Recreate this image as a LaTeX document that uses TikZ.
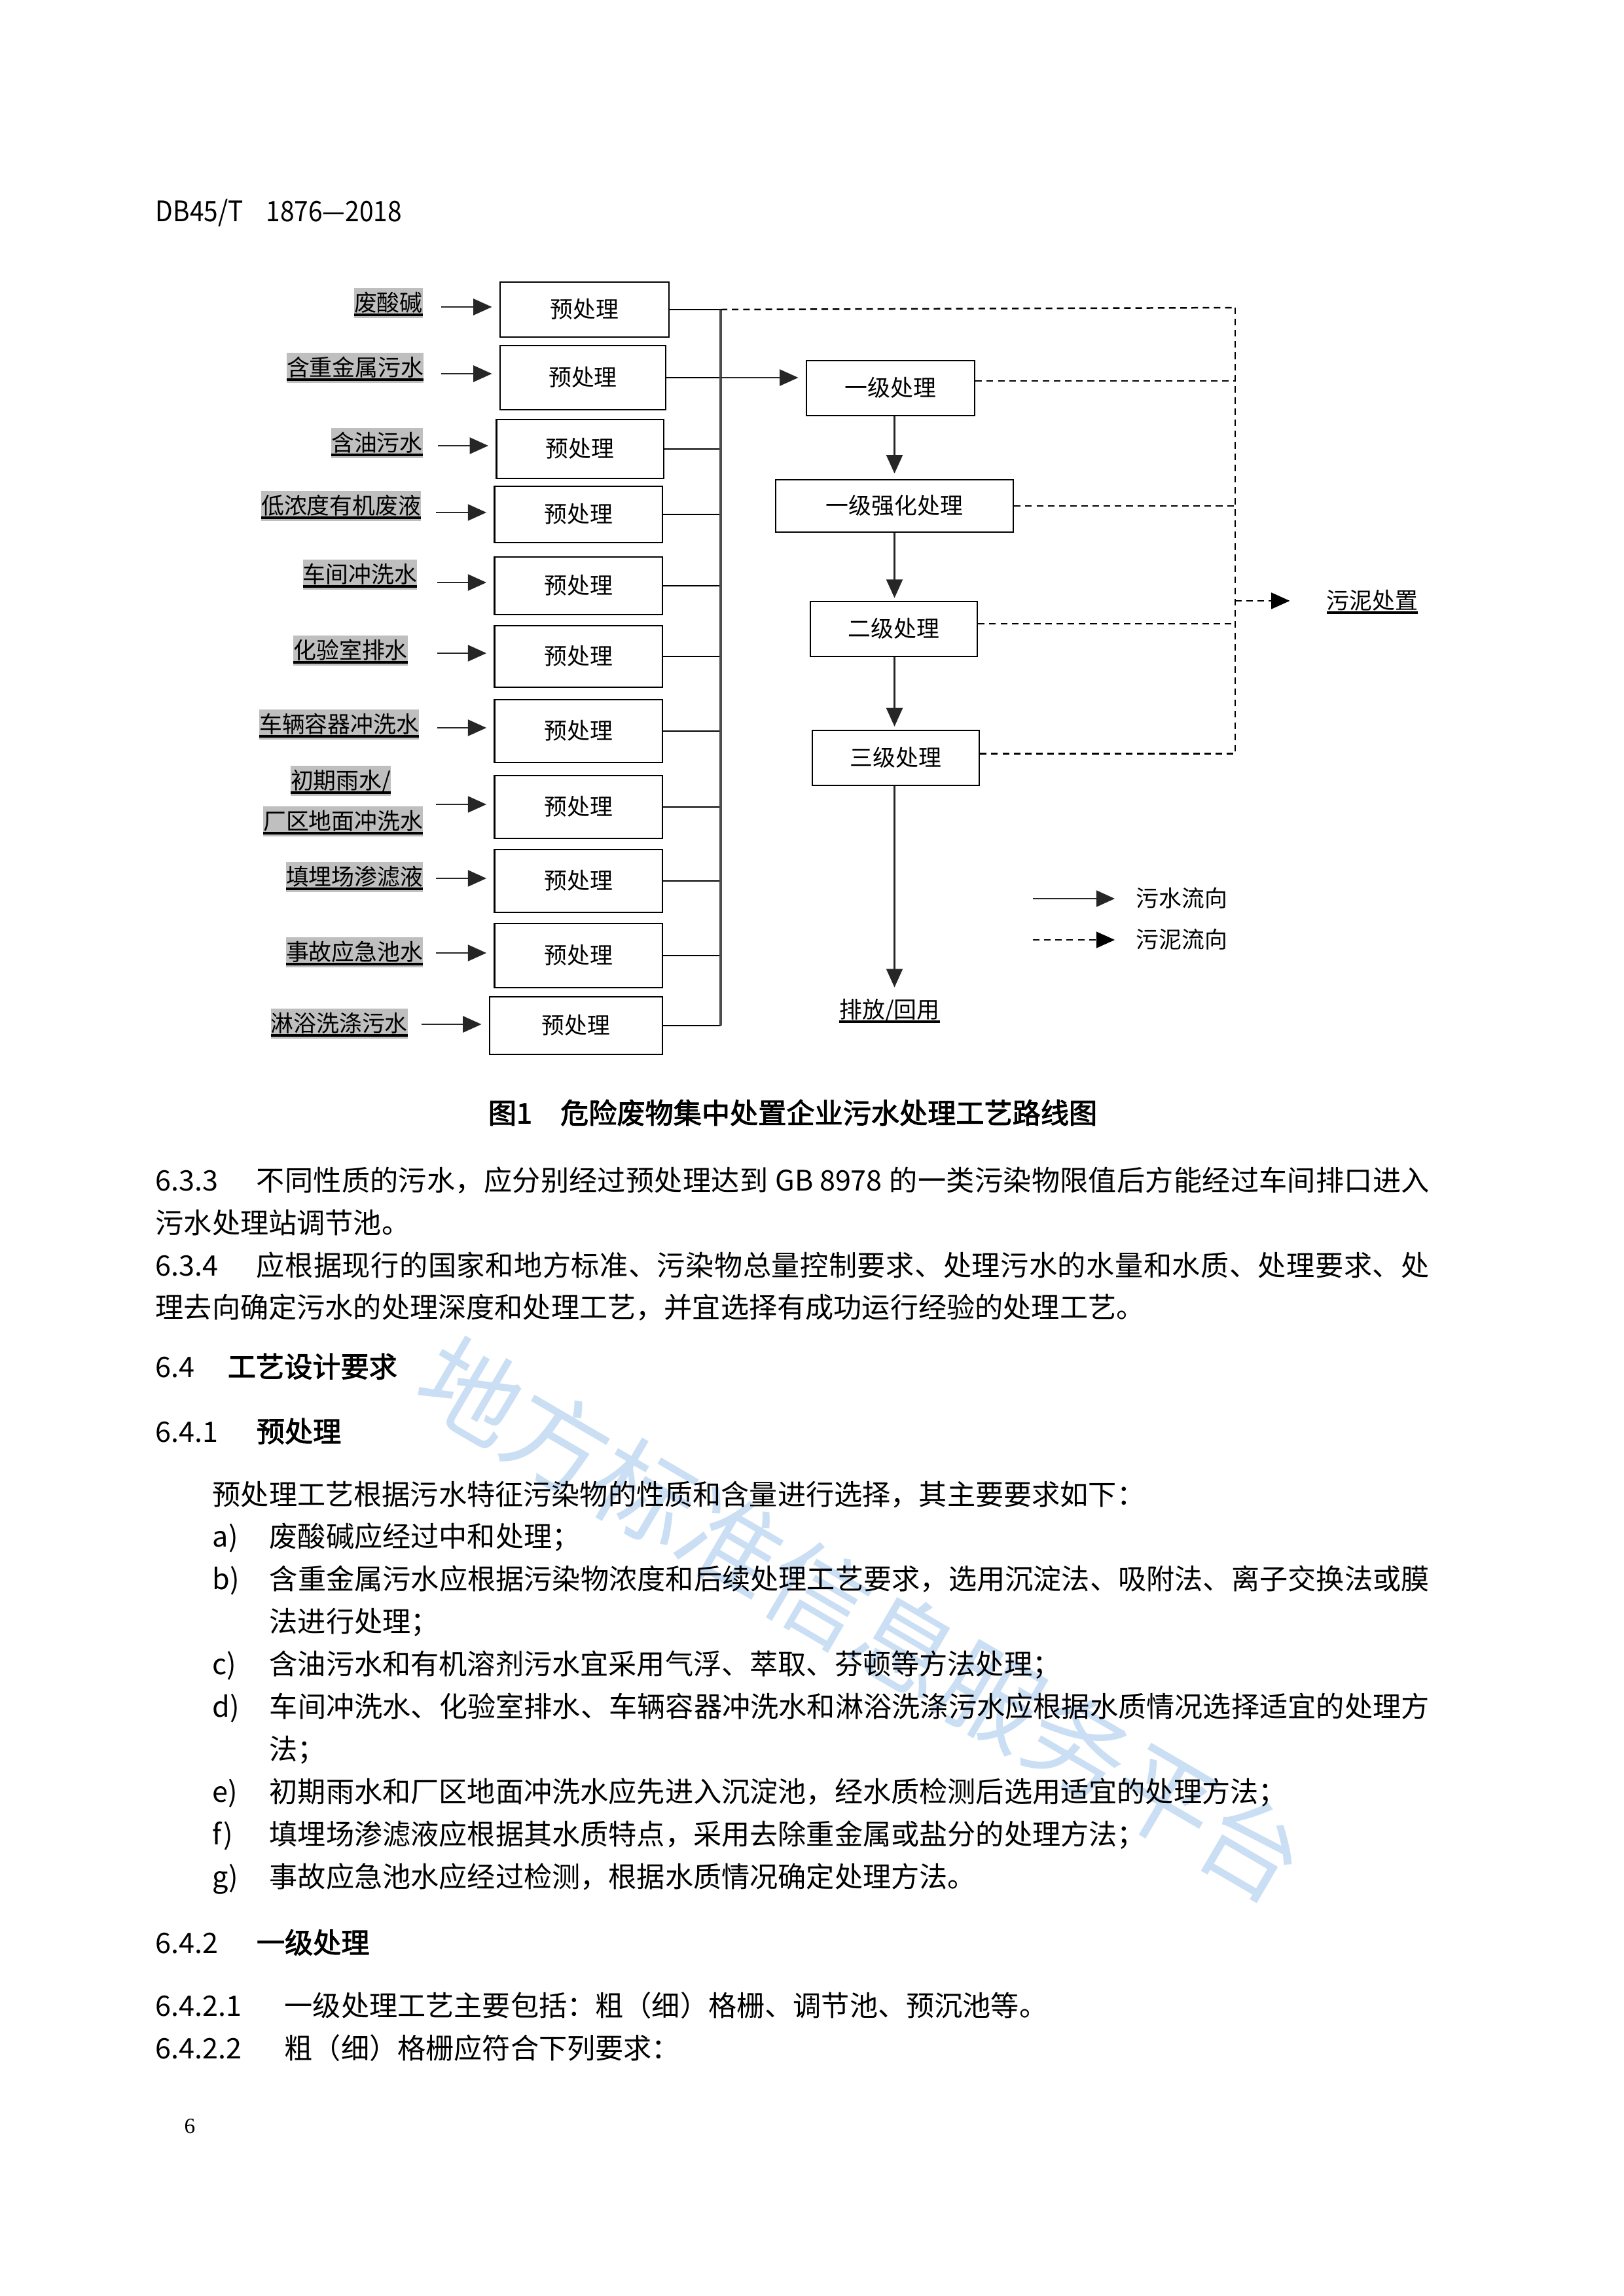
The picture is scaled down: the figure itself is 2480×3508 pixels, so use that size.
\documentclass[tikz,border=0pt]{standalone}
\usepackage{fontspec}
\usepackage{graphicx}
\setmainfont{Noto Sans CJK SC}
\newfontfamily\heiti[FakeBold=2.2]{Noto Sans CJK SC}
\newfontfamily\pnumfont{Liberation Serif}
\usetikzlibrary{arrows.meta}
\XeTeXlinebreaklocale "zh"
\XeTeXlinebreakskip=0pt plus 1pt
\definecolor{wmblue}{RGB}{150,190,235}
\newcommand\dfs{\fontsize{8.4}{10}\selectfont}
\newcommand\bfs{\fontsize{10.4}{13}\selectfont}
\newcommand\ulab[1]{\setbox0\hbox{#1}\rlap{\rule[-1.7pt]{\wd0}{1pt}}\box0}
\def\spr#1{\mbox{#1}\sprx}
\def\sprx#1{\ifx\relax#1\else\hskip0pt plus 1fil\mbox{#1}\expandafter\sprx\fi}
\def\pxu{0.08468mm}
\newcommand\bx[6]{\node[box, minimum width={(#4-#2)*\pxu}, minimum height={(#5-#3)*\pxu}] (#1) at ({(#2+#4)/2},{(#3+#5)/2}) {#6};}
\newcommand\bl[4]{\node[bodyt] (#1) at (#2,{#3+16}) {#4};}
\begin{document}
\begin{tikzpicture}[x=0.08468mm,y=-0.08468mm,
 box/.style={draw, line width=0.6pt, inner sep=0pt, font=\dfs, text height=7.2pt, text depth=1pt},
 lab/.style={fill=black!25, inner xsep=0pt, inner ysep=1.5pt, font=\dfs, text height=7.2pt, text depth=1pt, anchor=east},
 plain/.style={inner sep=0pt, font=\dfs, text height=7.2pt, text depth=1pt},
 arr/.style={-{Triangle[length=2.4mm,width=2.1mm]}, line width=0.7pt, draw=black!85},
 conn/.style={line width=0.6pt},
 bus/.style={line width=0.8pt, draw=black!70},
 sl/.style={dash pattern=on 0.85mm off 0.6mm, line width=0.6pt},
 sla/.style={sl, -{Triangle[length=2.4mm,width=2.1mm]}},
 bodyt/.style={inner sep=0pt, anchor=base west, font=\bfs},
 headt/.style={bodyt, font=\bfs\heiti},
]
\useasboundingbox (0,0) rectangle (2480,3508);
\fill[white] (0,0) rectangle (2480,3508);

% watermark
\node[rotate=-30.3, text=wmblue, opacity=0.5, font=\fontsize{37}{40}\selectfont, inner sep=0pt] (wm) at (1317,2474) {地方标准信息服务平台};

% header
\node[bodyt] (hdr) at (237,338) {\scalebox{0.9}[1]{DB45/T\hspace{0.9em}1876—2018}};

% pretreatment boxes
\bx{p1}{764}{431}{1022}{515}{预处理}
\bx{p2}{764}{528}{1017}{626}{预处理}
\bx{p3}{758.5}{641}{1014}{731}{预处理}
\bx{p4}{755.6}{743}{1012}{829}{预处理}
\bx{p5}{755.6}{851}{1012}{939}{预处理}
\bx{p6}{755.6}{956}{1012}{1050}{预处理}
\bx{p7}{755.6}{1069}{1012}{1165}{预处理}
\bx{p8}{755.6}{1185}{1012}{1281}{预处理}
\bx{p9}{755.6}{1298}{1012}{1394}{预处理}
\bx{p10}{755.6}{1411}{1012}{1509}{预处理}
\bx{p11}{748}{1523}{1012}{1611}{预处理}

% source labels
\node[lab] (l1) at (646.5,463) {\ulab{废酸碱}};
\node[lab] (l2) at (648,562) {\ulab{含重金属污水}};
\node[lab] (l3) at (646.5,677) {\ulab{含油污水}};
\node[lab] (l4) at (644,773) {\ulab{低浓度有机废液}};
\node[lab] (l5) at (638,878) {\ulab{车间冲洗水}};
\node[lab] (l6) at (623.6,994) {\ulab{化验室排水}};
\node[lab] (l7) at (641,1107) {\ulab{车辆容器冲洗水}};
\node[lab] (l8a) at (598,1193) {\ulab{初期雨水/}};
\node[lab] (l8b) at (647,1255) {\ulab{厂区地面冲洗水}};
\node[lab] (l9) at (647,1340) {\ulab{填埋场渗滤液}};
\node[lab] (l10) at (647,1455) {\ulab{事故应急池水}};
\node[lab] (l11) at (623.6,1564) {\ulab{淋浴洗涤污水}};

% arrow starts
\coordinate (a1) at (673.5,469);
\coordinate (a2) at (673.5,571);
\coordinate (a3) at (669,681);
\coordinate (a4) at (666,783);
\coordinate (a5) at (668,890);
\coordinate (a6) at (668,998);
\coordinate (a7) at (668,1112);
\coordinate (a8) at (666,1229);
\coordinate (a9) at (666,1342);
\coordinate (a10) at (666,1456);
\coordinate (a11) at (643.6,1565);
\foreach \i in {1,...,11}{
  \draw[arr, shorten >=0.95mm] (a\i) -- (a\i -| p\i.west);
}

% bus
\coordinate (bt) at (1101,470);
\foreach \i in {1,...,11}{
  \draw[conn] (p\i.east) -- (p\i.east -| bt);
}
\draw[bus] (p1.east -| bt) -- (p11.east -| bt);

% main treatment column
\bx{L1}{1232}{551}{1489}{635}{一级处理}
\bx{L2}{1185}{733}{1548}{813}{一级强化处理}
\bx{L3}{1238}{919}{1493}{1003}{二级处理}
\bx{L4}{1241}{1116}{1496}{1200}{三级处理}
\node[plain] (out) at (1359,1543) {\ulab{排放/回用}};

\draw[arr, shorten >=0.95mm] (p2.east -| bt) -- (p2.east -| L1.west);
\draw[arr, shorten >=0.7mm] (L2.north |- L1.south) -- (L2.north);
\draw[arr, shorten >=0.35mm] (L2.south) -- (L2.south |- L3.north);
\draw[arr, shorten >=0.4mm] (L2.north |- L3.south) -- (L2.north |- L4.north);
\draw[arr, shorten >=1.4mm] (L2.north |- L4.south) -- (L2.north |- out.north);

% sludge lines
\coordinate (dr) at (1887,470);
\node[plain, anchor=west] (sludge) at (2026,918) {\ulab{污泥处置}};
\draw[sl] (p1.east -| bt) -- (dr);
\draw[sl] (dr) -- ([yshift=0.55mm]dr |- L4.east);
\draw[sl] ([yshift=0.93mm]L1.east) -- ([yshift=0.93mm]L1.east -| dr);
\draw[sl] (L2.east) -- (L2.east -| dr);
\draw[sl] ([yshift=0.68mm]L3.east) -- ([yshift=0.68mm]L3.east -| dr);
\draw[sl] ([yshift=0.55mm]L4.east) -- ([yshift=0.55mm]L4.east -| dr);
\draw[sla, shorten >=4.7mm] (sludge.west -| dr) -- (sludge.west);

% legend
\node[plain, anchor=west] (lg1) at (1735,1373) {污水流向};
\node[plain, anchor=west] (lg2) at (1735,1436) {污泥流向};
\coordinate (lg1s) at (1578,1373);
\coordinate (lg2s) at (1578,1436);
\draw[arr, shorten >=2.7mm] (lg1s) -- (lg1.west);
\draw[sla, shorten >=2.7mm] (lg2s) -- (lg2.west);

% caption
\node[inner sep=0pt, font=\bfs\heiti] (cap) at (1211,1700) {图1\hspace{1em}危险废物集中处置企业污水处理工艺路线图};

% body text
\bl{n633}{237}{1803}{6.3.3}
\bl{t633}{391}{1803}{\makebox[151.75mm][s]{\spr 不同性质的污水，应分别经过预处理达到{\hspace{0.25em}GB 8978\hspace{0.25em}}的一类污染物限值后方能经过车间排口进入\relax}}
\bl{t633b}{237}{1868}{污水处理站调节池。}
\bl{n634}{237}{1933}{6.3.4}
\bl{t634}{391}{1933}{\makebox[151.75mm][s]{\spr 应根据现行的国家和地方标准、污染物总量控制要求、处理污水的水量和水质、处理要求、处\relax}}
\bl{t634b}{237}{1997}{理去向确定污水的处理深度和处理工艺，并宜选择有成功运行经验的处理工艺。}
\bl{n64}{237}{2088}{6.4}
\node[headt] (t64) at (347,2104) {工艺设计要求};
\bl{n641}{237}{2187}{6.4.1}
\node[headt] (t641) at (391,2203) {预处理};
\bl{tpre}{324}{2283}{预处理工艺根据污水特征污染物的性质和含量进行选择，其主要要求如下：}
\bl{la}{324}{2347}{a)}
\bl{ta}{411}{2347}{废酸碱应经过中和处理；}
\bl{lb}{324}{2412}{b)}
\bl{tb}{411}{2412}{\makebox[150.05mm][s]{\spr 含重金属污水应根据污染物浓度和后续处理工艺要求，选用沉淀法、吸附法、离子交换法或膜\relax}}
\bl{tb2}{411}{2477}{法进行处理；}
\bl{lc}{324}{2542}{c)}
\bl{tc}{411}{2542}{含油污水和有机溶剂污水宜采用气浮、萃取、芬顿等方法处理；}
\bl{ld}{324}{2607}{d)}
\bl{td}{411}{2607}{\makebox[150.05mm][s]{\spr 车间冲洗水、化验室排水、车辆容器冲洗水和淋浴洗涤污水应根据水质情况选择适宜的处理方\relax}}
\bl{td2}{411}{2672}{法；}
\bl{le}{324}{2737}{e)}
\bl{te}{411}{2737}{初期雨水和厂区地面冲洗水应先进入沉淀池，经水质检测后选用适宜的处理方法；}
\bl{lf}{324}{2802}{f)}
\bl{tf}{411}{2802}{填埋场渗滤液应根据其水质特点，采用去除重金属或盐分的处理方法；}
\bl{lg}{324}{2867}{g)}
\bl{tg}{411}{2867}{事故应急池水应经过检测，根据水质情况确定处理方法。}
\bl{n642}{237}{2968}{6.4.2}
\node[headt] (t642) at (391,2984) {一级处理};
\bl{n6421}{237}{3064}{6.4.2.1}
\bl{t6421}{434}{3064}{一级处理工艺主要包括：粗（细）格栅、调节池、预沉池等。}
\bl{n6422}{237}{3129}{6.4.2.2}
\bl{t6422}{434}{3129}{粗（细）格栅应符合下列要求：}

% page number
\node[inner sep=0pt, font=\pnumfont\fontsize{8}{10}\selectfont] (pg) at (290,3249) {6};
\end{tikzpicture}
\end{document}
